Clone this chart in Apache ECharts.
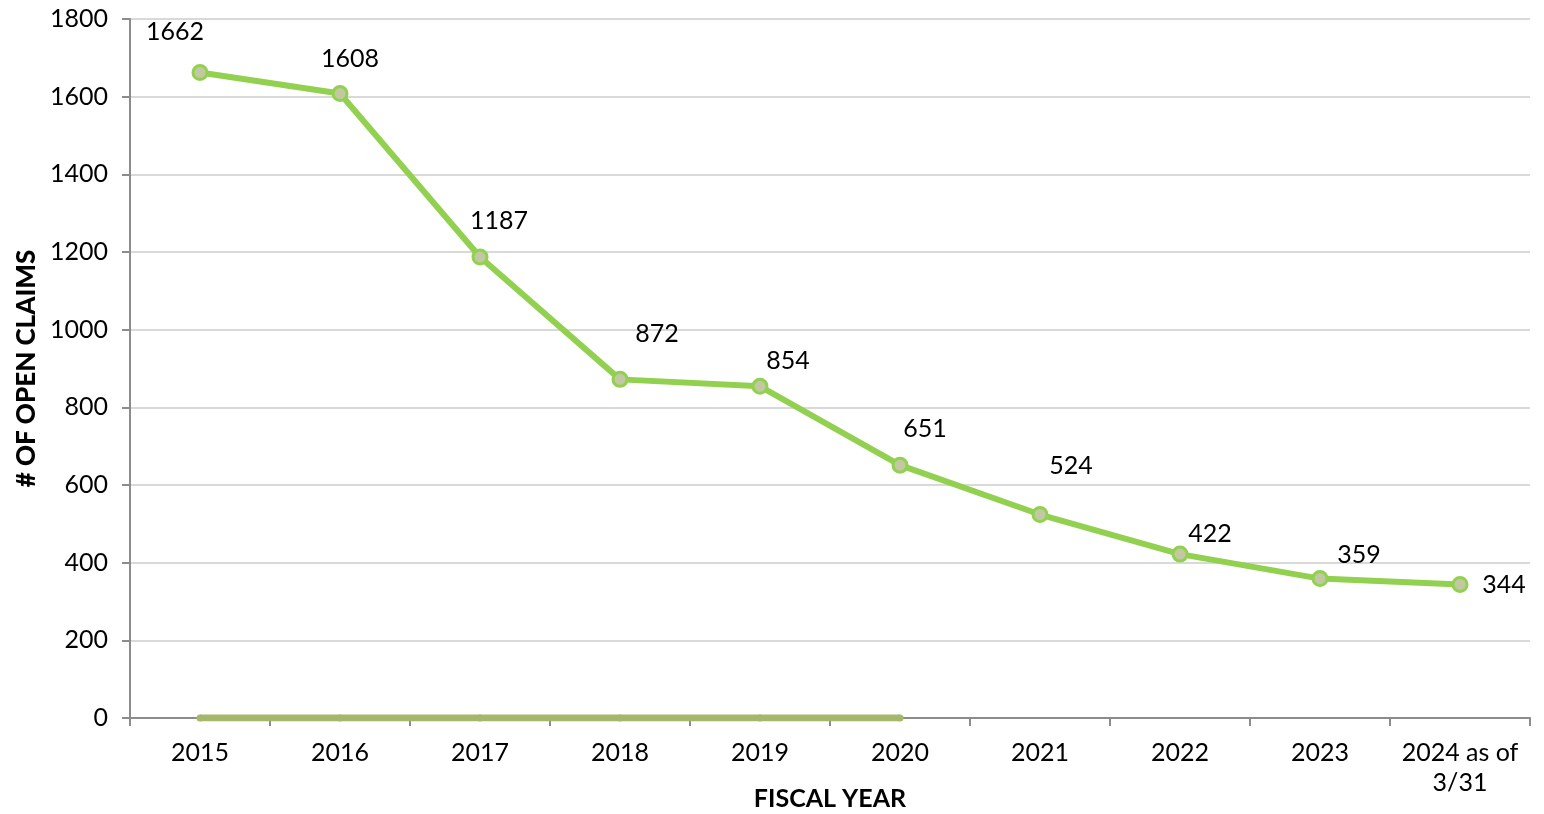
<!DOCTYPE html>
<html>
<head>
<meta charset="utf-8">
<script src="https://cdn.jsdelivr.net/npm/echarts@6/dist/echarts.min.js"></script>
<style>
  html, body { margin: 0; padding: 0; background: #fff; }
  #chart_container { width: 1544px; height: 814px; }
</style>
</head>
<body>
<div id="chart_container"></div>
<script>
// data
const years = ['2015', '2016', '2017', '2018', '2019', '2020', '2021', '2022', '2023', '2024 as of 3/31'];
const openClaims = [1662, 1608, 1187, 872, 854, 651, 524, 422, 359, 344];
const baseline = [0, 0, 0, 0, 0, 0];   // flat series along the axis, 2015-2020
const yTicks = [0, 200, 400, 600, 800, 1000, 1200, 1400, 1600, 1800];

// label nudges (px) so they sit like the original
const labelOffsets = [[-25, -8], [10, -2], [19, -3], [37, -12], [28, 8], [25, -3], [31, -16], [30, 13], [39, 9], [44, 34]];

window.addEventListener("load", () => {
  let chart = echarts.init(document.getElementById("chart_container"), null, { renderer: 'canvas' });

  const font = 'Lato, "Noto Sans", sans-serif';

  let option = {
    backgroundColor: '#fff',
    animation: false,
    textStyle: { fontFamily: font },
    grid: { left: 130, right: 14, top: 19, bottom: 96, containLabel: false, outerBoundsMode: 'none' },
    xAxis: {
      type: 'category',
      data: years,
      boundaryGap: true,
      name: 'FISCAL YEAR',
      nameLocation: 'middle',
      nameGap: 68,
      nameMoveOverlap: false,
      nameTextStyle: { fontSize: 25, fontWeight: 'bold', color: '#000', fontFamily: font },
      axisLine: { lineStyle: { color: '#8c8c8c', width: 2 } },
      axisTick: { show: true, length: 8, alignWithLabel: false, lineStyle: { color: '#8c8c8c', width: 2 } },
      axisLabel: {
        fontSize: 25, color: '#000', margin: 20, interval: 0, lineHeight: 30,
        formatter: (v) => v.replace(' 3/31', '\n3/31')
      },
      splitLine: { show: false }
    },
    yAxis: {
      type: 'value',
      min: yTicks[0],
      max: yTicks[yTicks.length - 1],
      interval: yTicks[1] - yTicks[0],
      name: '# OF OPEN CLAIMS',
      nameLocation: 'middle',
      nameGap: 90,
      nameMoveOverlap: false,
      nameRotate: 90,
      nameTextStyle: { fontSize: 26, fontWeight: 900, color: '#000', fontFamily: font },
      axisLine: { show: true, lineStyle: { color: '#8c8c8c', width: 2 } },
      axisTick: { show: true, length: 8, lineStyle: { color: '#8c8c8c', width: 2 } },
      axisLabel: { fontSize: 25, color: '#000', margin: 22, formatter: (v) => String(v) },
      splitLine: { show: true, lineStyle: { color: '#d9d9d9', width: 2 } }
    },
    series: [
      {
        name: 'Baseline',
        type: 'line',
        data: baseline,
        symbol: 'circle',
        symbolSize: 7,
        itemStyle: { color: '#a5b76b' },
        lineStyle: { color: '#a5b76b', width: 7 },
        z: 3
      },
      {
        name: 'Open Claims',
        type: 'line',
        data: openClaims.map((v, i) => ({
          value: v,
          label: { offset: labelOffsets[i] }
        })),
        symbol: 'circle',
        symbolSize: 14,
        itemStyle: { color: '#c2c8a2', borderColor: '#92d050', borderWidth: 3 },
        lineStyle: { color: '#92d050', width: 6 },
        label: {
          show: true,
          position: 'top',
          distance: 12,
          fontSize: 25,
          color: '#000',
          fontFamily: font
        },
        z: 4
      }
    ]
  };

  chart.setOption(option);

  window.addEventListener('resize', chart.resize);
});
</script>
</body>
</html>
